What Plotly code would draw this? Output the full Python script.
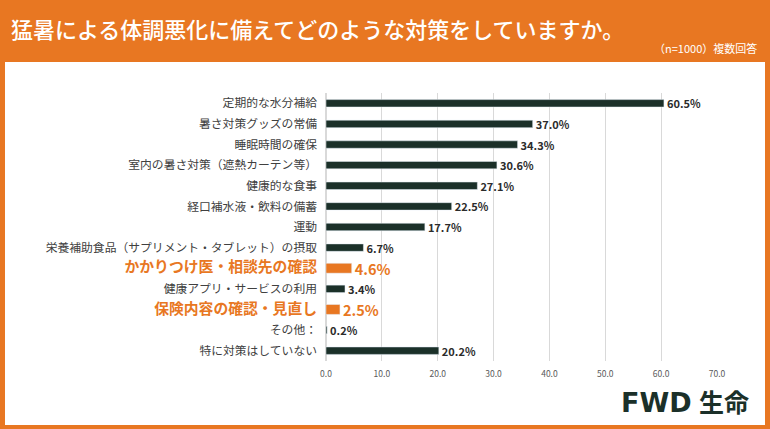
import plotly.graph_objects as go

# survey answers (n=1000, multiple answers), top to bottom
categories = [
    "定期的な水分補給",
    "暑さ対策グッズの常備",
    "睡眠時間の確保",
    "室内の暑さ対策（遮熱カーテン等）",
    "健康的な食事",
    "経口補水液・飲料の備蓄",
    "運動",
    "栄養補助食品（サプリメント・タブレット）の摂取",
    "かかりつけ医・相談先の確認",
    "健康アプリ・サービスの利用",
    "保険内容の確認・見直し",
    "その他：",
    "特に対策はしていない",
]
values = [60.5, 37.0, 34.3, 30.6, 27.1, 22.5, 17.7, 6.7, 4.6, 3.4, 2.5, 0.2, 20.2]
highlight = [False, False, False, False, False, False, False, False, True, False, True, False, False]
x_ticks = [0, 10, 20, 30, 40, 50, 60, 70]

ORANGE = "#E87722"
DARK = "#1B3029"
W, H = 770, 429
L, R, T, B = 326, 53, 93, 68
JP = "Noto Sans CJK JP"


def px_x(px):
    return (px - L) / (W - L - R)


def px_y(py):
    return (H - B - py) / (H - T - B)


ticktext = []
for c, h in zip(categories, highlight):
    if h:
        ticktext.append("<span style='color:%s;font-size:14.8px'><b>%s</b></span>" % (ORANGE, c))
    else:
        ticktext.append(c)

fig = go.Figure()
fig.add_trace(go.Bar(
    x=values,
    y=categories,
    orientation="h",
    marker_color=[ORANGE if h else DARK for h in highlight],
    width=[0.48 if h else 0.36 for h in highlight],
    texttemplate="<b>%{x:.1f}%</b>",
    textposition="outside",
    constraintext="none",
    textfont=dict(
        family=JP,
        color=[ORANGE if h else "#2b2b2b" for h in highlight],
        size=[14.5 if h else 11 for h in highlight],
    ),
    cliponaxis=False,
    hoverinfo="skip",
))

fig.update_layout(
    width=W, height=H,
    margin=dict(l=L, r=R, t=T, b=B, autoexpand=False),
    paper_bgcolor=ORANGE,
    plot_bgcolor="white",
    showlegend=False,
    font=dict(family=JP, color="#444444"),
    title=dict(
        text="猛暑による体調悪化に備えてどのような対策をしていますか。",
        font=dict(family=JP, size=22, color="white", weight=500),
        xref="container", yref="container", automargin=False,
        x=11 / W, y=1 - 30 / H, xanchor="left", yanchor="middle",
    ),
    xaxis=dict(
        range=[0, 70], tickvals=x_ticks, ticktext=["%.1f" % v for v in x_ticks],
        showgrid=True, gridcolor="#D9D9D9", gridwidth=1,
        zeroline=True, zerolinecolor="#D9D9D9",
        tickfont=dict(size=8.5, color="#595959"),
        ticks="", ticklabelstandoff=6, automargin=False,
    ),
    yaxis=dict(
        autorange="reversed",
        tickvals=categories, ticktext=ticktext,
        tickfont=dict(size=11.8, color="#404040"),
        ticks="", ticklabelstandoff=8, automargin=False,
        showgrid=False,
    ),
    bargap=0.6,
)

# white inner panel
fig.add_shape(
    type="rect", xref="paper", yref="paper", layer="below",
    x0=px_x(5), x1=px_x(765), y0=px_y(425), y1=px_y(62),
    fillcolor="white", line_width=0,
)

fig.add_annotation(
    text="（n=1000）複数回答", xref="paper", yref="paper",
    x=px_x(759), y=px_y(48), xanchor="right", yanchor="middle",
    showarrow=False, font=dict(family=JP, size=11, color="white"),
)

# logo
fig.add_annotation(
    text="<b>FWD</b>", xref="paper", yref="paper",
    x=px_x(619), y=px_y(402), xanchor="left", yanchor="middle",
    showarrow=False, font=dict(family="DejaVu Sans", size=27, color=DARK),
)
fig.add_annotation(
    text="<b>生命</b>", xref="paper", yref="paper",
    x=px_x(751), y=px_y(401), xanchor="right", yanchor="middle",
    showarrow=False, font=dict(family=JP, size=25, color=DARK),
)

fig.write_html("out.html", post_script="document.body.style.margin='0';",
               config={"displayModeBar": False})
